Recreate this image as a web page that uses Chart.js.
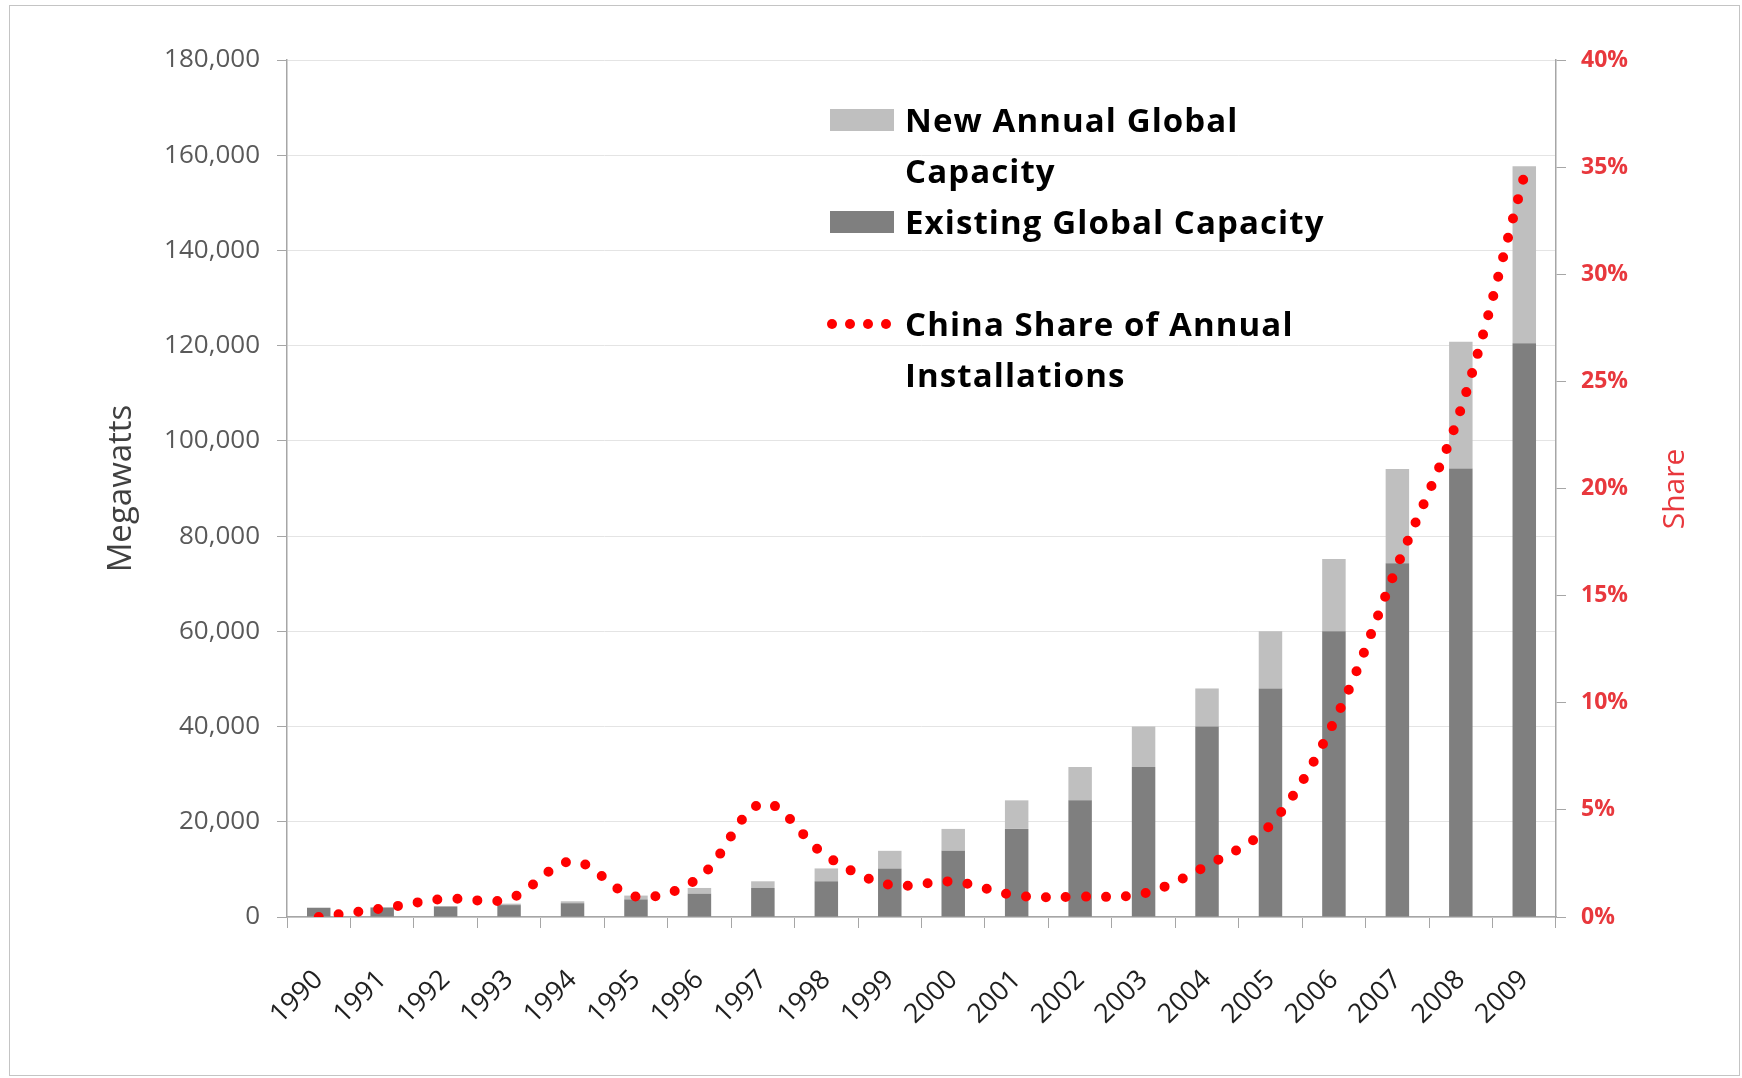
<!DOCTYPE html>
<html>
<head>
<meta charset="utf-8">
<script src="https://cdn.jsdelivr.net/npm/chart.js@4.4.0/dist/chart.umd.min.js"></script>
<style>
  html, body { margin: 0; padding: 0; background: #fff; }
  #wrap { position: relative; width: 1742px; height: 1078px; overflow: hidden; }
  #frame { position: absolute; left: 9px; top: 5px; width: 1731px; height: 1071px; border: 1px solid #c4c4c4; box-sizing: border-box; pointer-events: none; }
  #chart-box { position: absolute; left: 0; top: 0; width: 1742px; height: 1078px; }
  .legend-text { position: absolute; font-family: 'Open Sans', sans-serif; font-weight: 700; font-size: 33px; letter-spacing: 1.1px; line-height: 51px; color: #000; white-space: nowrap; }
  .swatch { position: absolute; width: 64px; height: 22px; }
  .dot { position: absolute; width: 10px; height: 10px; border-radius: 50%; background: #ff0000; }
  #share-title { position: absolute; left: 1672px; top: 489px; transform: translate(-50%, -50%) rotate(-90deg); font-family: 'Open Sans', sans-serif; font-size: 30px; color: #e8383d; }
</style>
</head>
<body>
<div id="wrap">
  <div id="chart-box"><canvas id="chart"></canvas></div>

  <div class="swatch" style="left:830px; top:109px; background:#bfbfbf;"></div>
  <div class="legend-text" style="left:905px; top:94px;">New Annual Global<br>Capacity</div>
  <div class="swatch" style="left:830px; top:211px; background:#7f7f7f;"></div>
  <div class="legend-text" style="left:905px; top:196px;">Existing Global Capacity</div>
  <div class="dot" style="left:827px; top:319px;"></div>
  <div class="dot" style="left:845px; top:319px;"></div>
  <div class="dot" style="left:863px; top:319px;"></div>
  <div class="dot" style="left:881px; top:319px;"></div>
  <div class="legend-text" style="left:905px; top:298px;">China Share of Annual<br>Installations</div>

  <div id="share-title">Share</div>
  <div id="frame"></div>
</div>

<script>
// Values
const years = ['1990', '1991', '1992', '1993', '1994', '1995', '1996', '1997', '1998', '1999',
               '2000', '2001', '2002', '2003', '2004', '2005', '2006', '2007', '2008', '2009'];

// Megawatts
const existingCapacity = [1900, 1950, 2200, 2500, 2900, 3700, 4900, 6100, 7500, 10200,
                          13900, 18500, 24500, 31500, 40000, 48000, 60000, 74300, 94200, 120500];
const newCapacity = [100, 150, 100, 300, 400, 800, 1200, 1400, 2700, 3700,
                     4600, 6000, 7000, 8500, 8000, 12000, 15200, 19800, 26600, 37200];

// percent of annual installations
const chinaShare = [0, 0.4, 0.85, 0.85, 2.6, 0.95, 1.85, 5.3, 2.85, 1.5,
                    1.65, 1.0, 0.95, 1.1, 2.4, 4.3, 9.1, 16.4, 23.7, 34.6];

const axisGrey = '#a6a6a6';
const shareRed = '#e8383d';

new Chart(document.getElementById('chart').getContext('2d'), {
  type: 'bar',
  data: {
    labels: years,
    datasets: [
      {
        type: 'line',
        label: 'China Share of Annual Installations',
        data: chinaShare,
        yAxisID: 'y1',
        borderColor: '#ff0000',
        borderWidth: 10,
        borderDash: [0, 20],
        borderCapStyle: 'round',
        pointRadius: 0,
        tension: 0.35,
        fill: false,
        order: 0
      },
      {
        label: 'Existing Global Capacity',
        data: existingCapacity,
        backgroundColor: '#7f7f7f',
        yAxisID: 'y',
        barPercentage: 0.37,
        categoryPercentage: 1,
        order: 1
      },
      {
        label: 'New Annual Global Capacity',
        data: newCapacity,
        backgroundColor: '#bfbfbf',
        yAxisID: 'y',
        barPercentage: 0.37,
        categoryPercentage: 1,
        order: 1
      }
    ]
  },
  options: {
    responsive: true,
    maintainAspectRatio: false,
    animation: false,
    layout: { padding: { top: 60, right: 0, bottom: 0, left: 0 } },
    plugins: {
      legend: { display: false },
      tooltip: { enabled: false }
    },
    scales: {
      x: {
        stacked: true,
        grid: { offset: true, drawOnChartArea: false, drawTicks: true, tickLength: 11, color: axisGrey },
        border: { color: axisGrey, width: 1.5 },
        ticks: {
          minRotation: 45,
          maxRotation: 45,
          padding: 36,
          color: '#1f1f1f',
          font: { family: 'Open Sans', size: 27 }
        },
        afterFit(scale) { scale.height = 161; }
      },
      y: {
        stacked: true,
        min: 0,
        max: 180000,
        ticks: {
          stepSize: 20000,
          padding: 17,
          color: '#595959',
          font: { family: 'Open Sans', size: 26 },
          callback: v => v.toLocaleString('en-US')
        },
        grid: { color: '#e4e4e4', tickColor: axisGrey, tickLength: 10 },
        border: { color: axisGrey, width: 1.5 },
        title: {
          display: true,
          text: 'Megawatts',
          color: '#404040',
          font: { family: 'Open Sans', size: 33 },
          padding: { top: 102, bottom: 0 }
        },
        afterFit(scale) { scale.width = 287; }
      },
      y1: {
        position: 'right',
        min: 0,
        max: 40,
        ticks: {
          stepSize: 5,
          padding: 15,
          color: shareRed,
          font: { family: 'Open Sans', size: 23, weight: 'bold' },
          callback: v => v + '%'
        },
        grid: { drawOnChartArea: false, tickColor: axisGrey, tickLength: 10 },
        border: { color: axisGrey, width: 1.5 },
        afterFit(scale) { scale.width = 1742 - 1556; }
      }
    }
  }
});
</script>
</body>
</html>
